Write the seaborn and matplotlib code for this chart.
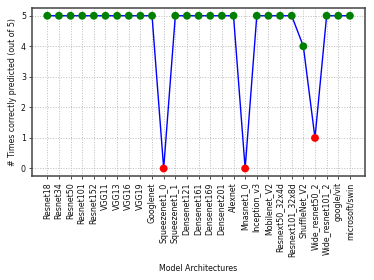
import matplotlib
matplotlib.use("Agg")
import matplotlib.pyplot as plt
import seaborn as sns
import pandas as pd

models = ["Resnet18", "Resnet34", "Resnet50", "Resnet101", "Resnet152", "VGG11", "VGG13",
          "VGG16", "VGG19", "Googlenet", "Squeezenet1_0", "Squeezenet1_1", "Densenet121",
          "Densenet161", "Densenet169", "Densenet201", "Alexnet", "Mnasnet1_0", "Inception_v3",
          "Mobilenet_V2", "Resnext50_32x4d", "Resnext101_32x8d", "ShuffleNet_V2",
          "Wide_resnet50_2", "Wide_resnet101_2", "google/vit", "microsoft/swin"]
correct = [5, 5, 5, 5, 5, 5, 5, 5, 5, 5, 0, 5, 5, 5, 5, 5, 5, 0, 5, 5, 5, 5, 4, 1, 5, 5, 5]

df = pd.DataFrame({"model": models, "correct": correct})
df["x"] = range(len(models))
df["status"] = ["good" if v >= 3 else "bad" for v in correct]

sns.set_style("whitegrid")
fig, ax = plt.subplots(figsize=(3.74, 2.8), dpi=100)
sns.lineplot(data=df, x="x", y="correct", color="blue", linewidth=1.0, ax=ax, zorder=2)
sns.scatterplot(data=df, x="x", y="correct", hue="status",
                palette={"good": "green", "bad": "red"}, s=32, edgecolor="none",
                legend=False, ax=ax, zorder=3)
fs = 5.7
ax.set_xticks(df["x"])
ax.set_xticklabels(models, rotation=90, fontsize=fs, color="#111111")
ax.set_yticks([0, 1, 2, 3, 4, 5])
ax.tick_params(axis="y", labelsize=fs, labelcolor="#111111", left=True, length=2.5, width=0.6, color="#333333", pad=2)
ax.tick_params(axis="x", bottom=True, length=2.5, width=0.6, color="#333333", pad=2)
ax.set_xlabel("Model Architectures", fontsize=fs, labelpad=5, color="#111111")
ax.set_ylabel("# Times correctly predicted (out of 5)", fontsize=fs, labelpad=2.5, color="#111111")
ax.grid(True, linestyle=":", color="#bbbbbb", linewidth=0.7)
for s in ax.spines.values():
    s.set_color("#444444")
    s.set_linewidth(1.1)
fig.subplots_adjust(left=0.086, right=0.976, top=0.971, bottom=0.371)
fig.savefig("out.png", dpi=100)
